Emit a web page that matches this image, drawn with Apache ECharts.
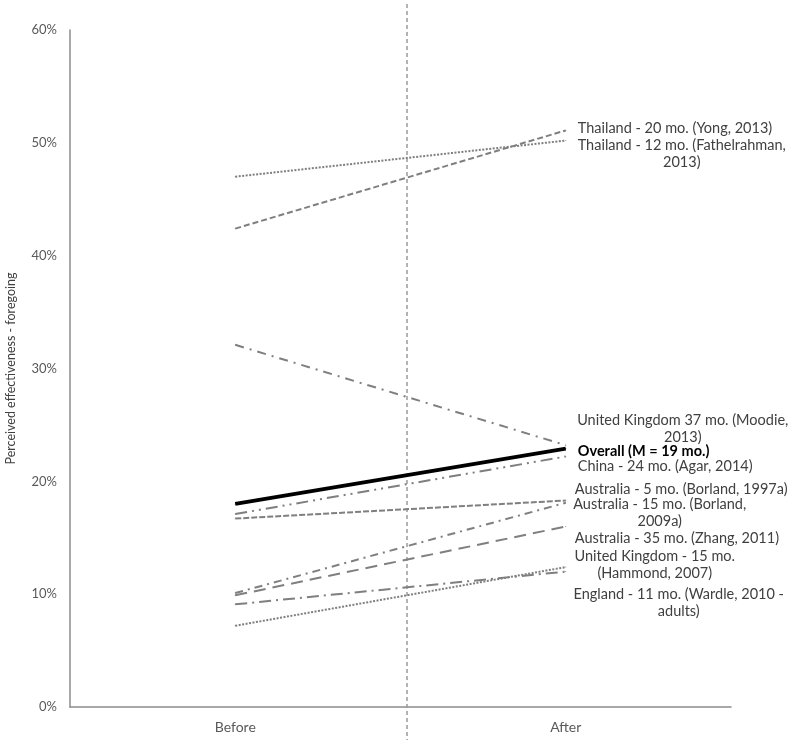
<!DOCTYPE html>
<html>
<head>
<meta charset="utf-8">
<script src="https://cdn.jsdelivr.net/npm/echarts@6/dist/echarts.min.js"></script>
<style>
  html, body { margin: 0; padding: 0; background: #fff; }
  #chart { width: 795px; height: 744px; }
</style>
</head>
<body>
<div id="chart"></div>
<script>
// 类别
var categories = ['Before', 'After'];

// 每条研究线：名称、前后两个值（百分比）
var studyNames = [
  'Thailand - 20 mo. (Yong, 2013)',
  'Thailand - 12 mo. (Fathelrahman,\n2013)',
  'United Kingdom 37 mo. (Moodie,\n2013)',
  'Overall (M = 19 mo.)',
  'China - 24 mo. (Agar, 2014)',
  'Australia - 5 mo. (Borland, 1997a)',
  'Australia - 15 mo. (Borland,\n2009a)',
  'Australia - 35 mo. (Zhang, 2011)',
  'United Kingdom - 15 mo.\n(Hammond, 2007)',
  'England - 11 mo. (Wardle, 2010 -\nadults)'
];
var beforeValues = [0.424, 0.470, 0.321, 0.180, 0.171, 0.167, 0.101, 0.099, 0.091, 0.072];
var afterValues  = [0.511, 0.502, 0.232, 0.229, 0.222, 0.183, 0.181, 0.160, 0.120, 0.124];

// Y 轴刻度
var yTicks = [0, 0.1, 0.2, 0.3, 0.4, 0.5, 0.6];

// 线型（虚线样式）
var dashTypes = [
  [6, 3],
  [2, 1.5],
  [9, 6, 2, 6],
  'solid',
  [12, 5, 2, 5, 2, 5],
  [6, 2],
  [8, 5, 2, 5],
  [12, 7],
  [12, 5, 2, 5],
  [2, 1.5]
];
// 标签位置：对齐方式和偏移
var labelAligns = ['left', 'center', 'center', 'left', 'left', 'left', 'center', 'left', 'center', 'center'];
var labelOffsets = [[12, -2], [116, 13], [117, -16], [12, 3], [12, 9.5], [9, -11.5], [94, 10], [9, 11.5], [89, -7], [113, 35.5]];

var FONT = 'Lato, "Open Sans", sans-serif';

var series = studyNames.map(function (name, i) {
  var isOverall = name.indexOf('Overall') === 0;
  var color = isOverall ? '#000000' : '#7f7f7f';
  return {
    name: name,
    type: 'line',
    symbol: 'circle',
    symbolSize: 1,
    showSymbol: true,
    z: isOverall ? 5 : 2,
    itemStyle: { color: color },
    lineStyle: { color: color, width: isOverall ? 4 : 2, type: dashTypes[i] },
    data: [
      beforeValues[i],
      {
        value: afterValues[i],
        label: {
          show: true,
          position: 'inside',
          align: labelAligns[i],
          verticalAlign: 'middle',
          offset: labelOffsets[i],
          formatter: name,
          fontFamily: FONT,
          fontSize: 14.5,
          lineHeight: 17,
          fontWeight: isOverall ? 'bold' : 'normal',
          color: isOverall ? '#000000' : '#404040'
        }
      }
    ]
  };
});

var chart = echarts.init(document.getElementById('chart'));
chart.setOption({
  animation: false,
  grid: { left: 70, right: 64, top: 30, bottom: 37, outerBoundsMode: 'none' },
  xAxis: {
    type: 'category',
    data: categories,
    boundaryGap: true,
    axisLine: { lineStyle: { color: '#8c8c8c', width: 1.5 } },
    axisTick: { show: false },
    axisLabel: { color: '#595959', fontFamily: FONT, fontSize: 14, margin: 13 }
  },
  yAxis: {
    type: 'value',
    min: yTicks[0],
    max: yTicks[yTicks.length - 1],
    interval: 0.1,
    name: 'Perceived effectiveness - foregoing',
    nameLocation: 'middle',
    nameGap: 53,
    nameTextStyle: { color: '#404040', fontFamily: FONT, fontSize: 12.5 },
    axisLine: { show: true, lineStyle: { color: '#8c8c8c', width: 1.5 } },
    axisTick: { show: false },
    splitLine: { show: false },
    axisLabel: {
      color: '#595959',
      fontFamily: FONT,
      fontSize: 13,
      margin: 13,
      formatter: function (v) { return Math.round(v * 100) + '%'; }
    }
  },
  // 中间的竖直虚线
  graphic: [{
    type: 'line',
    shape: { x1: 407, y1: 4, x2: 407, y2: 740 },
    style: { stroke: '#9a9a9a', lineWidth: 1.5, lineDash: [4, 3] },
    z: 1
  }],
  series: series
});
</script>
</body>
</html>
